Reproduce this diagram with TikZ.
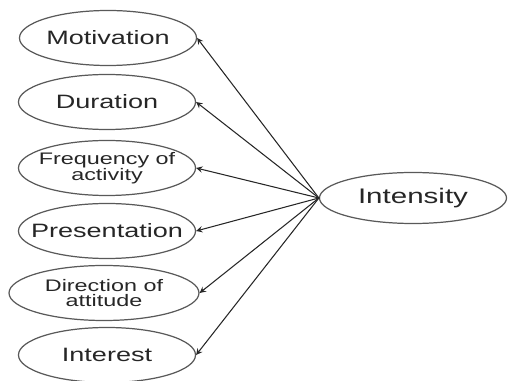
\documentclass[tikz,border=0pt]{standalone}
\usepackage{fontspec}
\setmainfont{Liberation Sans}[FakeStretch=1.4]
\usetikzlibrary{shapes.geometric}
\tikzset{
  cause/.style={draw=gray!70!black, line width=0.7pt, ellipse, inner xsep=-0.35cm,
    inner ysep=0pt, minimum width=3.54cm, minimum height=1.1cm, align=center,
    font=\fontsize{11}{11}\selectfont, text=black!85},
  twoline/.style={cause, font=\fontsize{9.5}{9}\selectfont},
  effect/.style={cause, minimum width=3.74cm, minimum height=1.02cm,
    font=\fontsize{12}{12}\selectfont}
}
\begin{document}
\begin{tikzpicture}[>=stealth, line join=round, line cap=round]
	\useasboundingbox (0,0) rectangle (10.16,7.62);
	\node[cause] (mot) at (2.16,6.86) {Motivation};
	\node[cause] (dur) at (2.14,5.58) {Duration};
	\node[twoline] (fre) at (2.14,4.26) {Frequency of\\activity};
	\node[cause] (pre) at (2.14,3.00) {Presentation};
	\node[twoline, minimum width=3.8cm] (dir) at (2.08,1.76) {Direction of\\attitude};
	\node[cause] (inr) at (2.14,0.52) {Interest};
	\node[effect] (int) at (8.26,3.66) {Intensity};
	\foreach \n in {mot,dur,fre,pre,dir,inr}
		\draw[->, gray!30!black, line width=0.6pt] (int.west) -- (\n.east);
\end{tikzpicture}
\end{document}
